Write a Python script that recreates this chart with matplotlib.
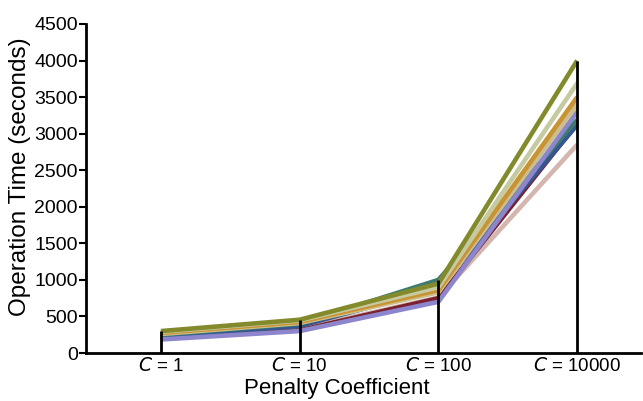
import matplotlib.pyplot as plt
import numpy as np

plt.rcParams['font.family'] = ['Liberation Sans', 'DejaVu Sans']

categories = ['$C$ = 1', '$C$ = 10', '$C$ = 100', '$C$ = 10000']

# operation time (seconds) for each run, per penalty coefficient
series = {
    'pink':     [215, 330, 760, 2850],
    'red':      [200, 310, 750, 3140],
    'blue':     [225, 370, 880, 3120],
    'teal':     [250, 400, 1000, 3190],
    'lavender': [185, 300, 700, 3300],
    'tan':      [260, 410, 830, 3400],
    'golden':   [275, 425, 860, 3500],
    'sage':     [290, 445, 900, 3690],
    'olive':    [300, 455, 950, 4000],
}
colors = {
    'pink': '#d4b6ae',
    'red': '#7a2030',
    'blue': '#35568f',
    'teal': '#3d7a72',
    'lavender': '#8d86cc',
    'tan': '#cdbf8c',
    'golden': '#c89332',
    'sage': '#c6caa0',
    'olive': '#838a2c',
}

fig = plt.figure(figsize=(6.43, 4.01), dpi=100)
ax = fig.add_axes([86/643, 1 - 353/401, (641-86)/643, (353-24)/401])

x = np.arange(len(categories))
for name, vals in series.items():
    ax.plot(x, vals, color=colors[name], lw=3.3, solid_capstyle='butt', zorder=2)

# drop lines from 0 to the highest value at each category
tops = np.max(np.array(list(series.values())), axis=0)
ax.vlines(x, 0, tops, color='black', lw=2, zorder=3)

ax.set_xlim(-0.54, 3.46)
ax.set_ylim(0, 4500)
ax.set_yticks(np.arange(0, 4501, 500))
ax.set_xticks(x)
ax.set_xticklabels(categories, fontsize=13.5)
ax.tick_params(axis='x', length=0, pad=3)
ax.tick_params(axis='y', labelsize=14, width=1.5, length=5, pad=1)
for s in ['top', 'right']:
    ax.spines[s].set_visible(False)
for s in ['left', 'bottom']:
    ax.spines[s].set_linewidth(2)

ax.set_ylabel('Operation Time (seconds)', fontsize=17.5)
ax.yaxis.set_label_coords(-0.099, 0.535)
ax.set_xlabel('Penalty Coefficient', fontsize=16)
ax.xaxis.set_label_coords(0.452, -0.076)

fig.savefig('out.png', dpi=100)
